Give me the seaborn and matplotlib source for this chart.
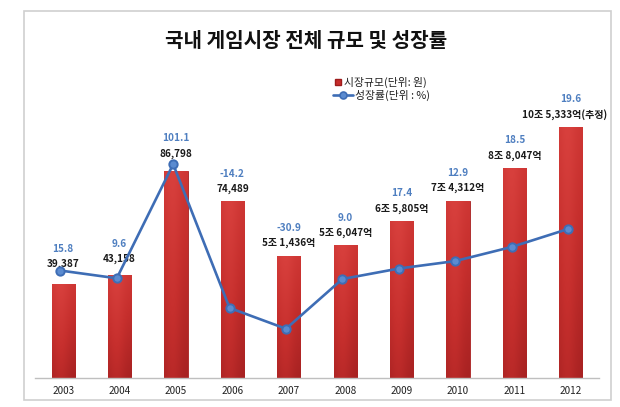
import numpy as np
import pandas as pd
import seaborn as sns
import matplotlib.pyplot as plt
from matplotlib.lines import Line2D
from matplotlib.patches import Rectangle
from matplotlib.colors import LinearSegmentedColormap

# data (market size in 억 원)
years = ["2003", "2004", "2005", "2006", "2007", "2008", "2009", "2010", "2011", "2012"]
market = [39387, 43158, 86798, 74489, 51436, 56047, 65805, 74312, 88047, 105333]
market_labels = ["39,387", "43,158", "86,798", "74,489", "5조 1,436억", "5조 6,047억",
                 "6조 5,805억", "7조 4,312억", "8조 8,047억", "10조 5,333억(추정)"]
# growth line as it is drawn in the picture, and the labels printed above the bars
growth = [15.8, 9.6, 101.1, -14.2, -30.9, 9.0, 17.4, 23.4, 34.7, 49.1]
growth_labels = ["15.8", "9.6", "101.1", "-14.2", "-30.9", "9.0", "17.4", "12.9", "18.5", "19.6"]

title = "국내 게임시장 전체 규모 및 성장률"
legend_bar = "시장규모(단위: 원)"
legend_line = "성장률(단위 : %)"

sns.set_theme(style="white")
plt.rcParams['font.family'] = ['Noto Sans CJK KR', 'DejaVu Sans']

W, H = 620, 407
line_color = "#3E6DB5"
label_blue = "#4F7FC0"
# pixel gap between bar top and its value label (first bars sit under the line)
label_gap = [20, 16, 18, 12, 13, 12, 13, 13, 13, 13]


def fx(px):
    return px / W


def fy(py):
    return 1 - py / H


fig = plt.figure(figsize=(W / 100, H / 100), dpi=100)
fig.patch.set_facecolor("white")
ax = fig.add_axes([fx(35), fy(378), (599 - 35) / W, (378 - 60) / H])

df = pd.DataFrame({"year": years, "market": market})
sns.barplot(data=df, x="year", y="market", color="#C62D2C", saturation=1, width=0.41,
            edgecolor="#A82020", linewidth=0.6, ax=ax)

# soft red gradient on the bars
cmap = LinearSegmentedColormap.from_list("redgrad", ["#A82222", "#C62F2D", "#D8403D"])
vert = np.linspace(1, 0, 60)[:, None]
horiz = np.exp(-((np.linspace(0, 1, 30) - 0.35) ** 2) / 0.15)[None, :]
grad = 0.7 * vert + 0.3 * horiz
for bar in list(ax.patches):
    x0, y0, w, h = bar.get_x(), bar.get_y(), bar.get_width(), bar.get_height()
    im = ax.imshow(grad, extent=[x0, x0 + w, y0, y0 + h], aspect="auto", cmap=cmap,
                   zorder=bar.get_zorder() + 0.1, interpolation="bilinear")
    im.set_clip_path(bar)

ax.set_xlim(-0.5, len(years) - 0.5)
ax.set_ylim(0, 133600)
ax.set_xlabel("")
ax.set_ylabel("")
ax.set_yticks([])
for s in ["top", "left", "right"]:
    ax.spines[s].set_visible(False)
ax.spines["bottom"].set_color("#BFBFBF")
ax.spines["bottom"].set_linewidth(1)
ax.tick_params(axis="x", length=0, pad=6, labelsize=7.2, colors="#222222")

# value labels above the bars
for i, (h, lab, glab) in enumerate(zip(market, market_labels, growth_labels)):
    dx = -6 if i == len(years) - 1 else 0
    gap = label_gap[i]
    ax.annotate(lab, (i, h), xytext=(dx, gap), textcoords="offset pixels", ha="center",
                va="center", fontsize=7.2, fontweight="bold", color="#1A1A1A")
    ax.annotate(glab, (i, h), xytext=(0, gap + 15), textcoords="offset pixels", ha="center",
                va="center", fontsize=7.2, fontweight="bold", color=label_blue)

# growth line on a second axis
ax2 = ax.twinx()
ax2.set_position(ax.get_position())
sns.lineplot(x=np.arange(len(years)) - 0.05, y=growth, ax=ax2, color=line_color,
             linewidth=1.9, marker="o", markersize=6, markerfacecolor="#5B8BD0",
             markeredgecolor=line_color, markeredgewidth=1.4)
ax2.set_xlim(-0.5, len(years) - 0.5)
ax2.set_ylim(-70.4, 184.7)
ax2.set_yticks([])
ax2.set_ylabel("")
for s in ax2.spines.values():
    s.set_visible(False)

# title
fig.text(fx(306), fy(40), title, ha="center", va="center", fontsize=14.5,
         fontweight="bold", color="#111111")

# legend
fig.add_artist(Line2D([fx(338)], [fy(82)], marker="s", markersize=4.5, color="#C62D2C",
                      markeredgecolor="#9E1C1C", linestyle="none", transform=fig.transFigure))
fig.text(fx(344), fy(82), legend_bar, ha="left", va="center", fontsize=7.8, color="#222222")
fig.add_artist(Line2D([fx(333), fx(353)], [fy(95), fy(95)], color=line_color, linewidth=1.9,
                      transform=fig.transFigure))
fig.add_artist(Line2D([fx(343)], [fy(95)], marker="o", markersize=5, color="#5B8BD0",
                      markeredgecolor=line_color, markeredgewidth=1.2, linestyle="none",
                      transform=fig.transFigure))
fig.text(fx(355), fy(95), legend_line, ha="left", va="center", fontsize=7.8, color="#222222")

# chart frame
fig.add_artist(Rectangle((fx(24), fy(400)), (611 - 24) / W, (400 - 11) / H, fill=False,
                         edgecolor="#CFCFCF", linewidth=1.2, transform=fig.transFigure))

fig.savefig("out.png", dpi=100)
